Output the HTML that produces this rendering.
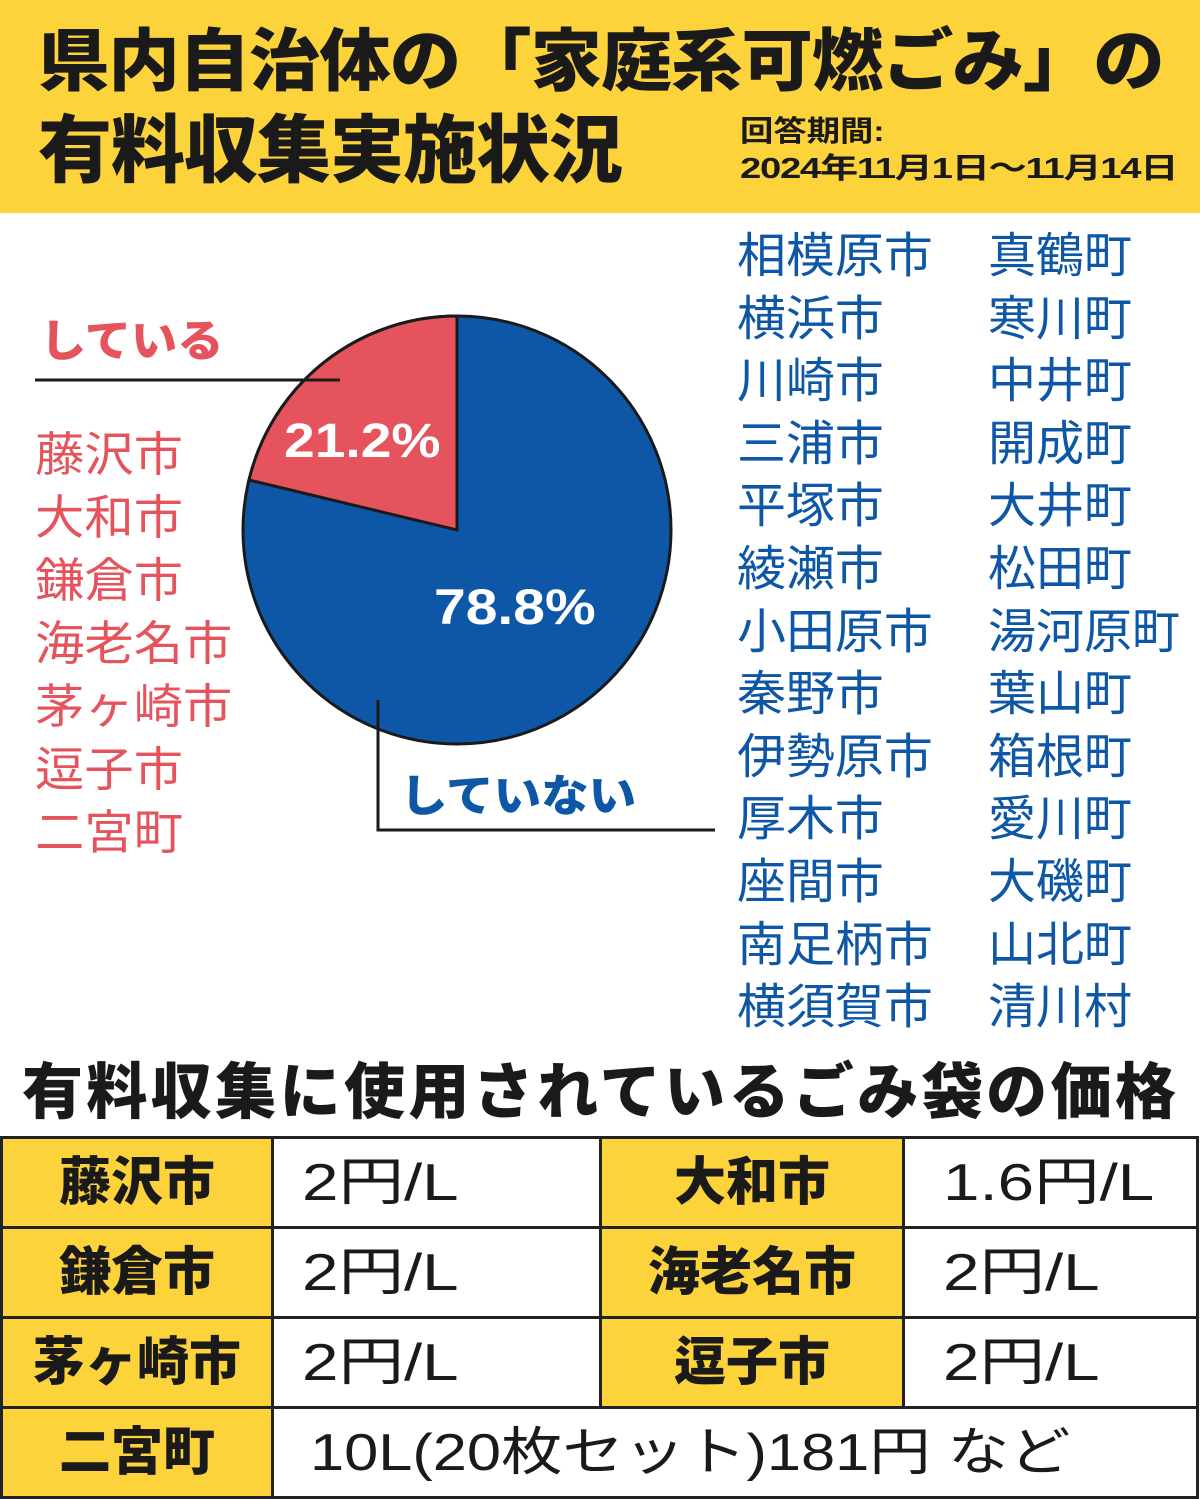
<!DOCTYPE html>
<html><head><meta charset="utf-8"><style>
*{margin:0;padding:0;box-sizing:border-box}
body{width:1200px;height:1498px;background:#fff;position:relative;overflow:hidden;font-family:"Liberation Sans","Noto Sans CJK JP",sans-serif}
.a{position:absolute;white-space:nowrap;line-height:1;transform-origin:0 0}
.hdr{position:absolute;left:0;top:0;width:1200px;height:213px;background:#fcd33a}
.t{font-weight:900;font-size:68px;color:#1a1a1a;letter-spacing:-1px}
.r{color:#e5545c;font-size:47px}
.b{color:#0d57a6;font-size:48px}
table{position:absolute;left:0;top:1136px;width:1199px;border-collapse:collapse}
td{border:3px solid #222;height:90px;font-size:52px;color:#1a1a1a;line-height:1}
td.y{background:#fcd33a;font-weight:900;text-align:center}
td.w{padding-left:28px}
td.w span{display:inline-block;transform:scaleX(1.26);transform-origin:0 50%}
</style></head><body>
<div class="hdr"></div>
<div class="a t" style="left:38px;top:28px;transform:scaleX(1.05)">県内自治体の「家庭系可燃ごみ」の</div>
<div class="a t" style="left:38px;top:114px;font-size:74px">有料収集実施状況</div>
<div class="a" style="left:740px;top:118px;font-size:29px;font-weight:700;color:#1a1a1a;transform:scaleX(1.15)">回答期間:</div>
<div class="a" style="left:740px;top:155px;font-size:29px;font-weight:700;color:#1a1a1a;letter-spacing:-1px;transform:scaleX(1.32)">2024年11月1日〜11月14日</div>

<svg class="a" style="left:0;top:0" width="1200" height="1060">
<circle cx="457" cy="530" r="214" fill="#0d57a6" stroke="#1a1a1a" stroke-width="3"/>
<path d="M457,530 L457,316 A214,214 0 0,0 249,480 Z" fill="#e5545c" stroke="#1a1a1a" stroke-width="3"/>
<line x1="35" y1="380" x2="340" y2="380" stroke="#1a1a1a" stroke-width="3"/>
<polyline points="378,700 378,830 715,830" fill="none" stroke="#1a1a1a" stroke-width="3"/>
</svg>
<div class="a" style="left:284px;top:418px;font-size:48px;font-weight:700;color:#fff;transform:scaleX(1.15)">21.2%</div>
<div class="a" style="left:434px;top:582px;font-size:50px;font-weight:700;color:#fff;transform:scaleX(1.14)">78.8%</div>
<div class="a" style="left:40px;top:320px;font-size:44px;font-weight:900;color:#e5545c;transform:scaleX(1.05)">している</div>
<div class="a" style="left:400px;top:775px;font-size:44px;font-weight:900;color:#0d57a6;transform:scaleX(1.08)">していない</div>

<div class="a r" style="left:35px;top:423px;line-height:63px;transform:scaleX(1.05)">藤沢市<br>大和市<br>鎌倉市<br>海老名市<br>茅ヶ崎市<br>逗子市<br>二宮町</div>
<div class="a b" style="left:737px;top:226px;line-height:62.6px;transform:scaleX(1.02)">相模原市<br>横浜市<br>川崎市<br>三浦市<br>平塚市<br>綾瀬市<br>小田原市<br>秦野市<br>伊勢原市<br>厚木市<br>座間市<br>南足柄市<br>横須賀市</div>
<div class="a b" style="left:988px;top:226px;line-height:62.6px">真鶴町<br>寒川町<br>中井町<br>開成町<br>大井町<br>松田町<br>湯河原町<br>葉山町<br>箱根町<br>愛川町<br>大磯町<br>山北町<br>清川村</div>

<div class="a" style="left:22px;top:1062px;font-size:61px;font-weight:900;color:#1a1a1a;letter-spacing:3.4px">有料収集に使用されているごみ袋の価格</div>
<table>
<tr><td class="y" style="width:271px">藤沢市</td><td class="w" style="width:328px"><span>2円/L</span></td><td class="y" style="width:303px">大和市</td><td class="w" style="padding-left:38px"><span>1.6円/L</span></td></tr>
<tr><td class="y">鎌倉市</td><td class="w"><span>2円/L</span></td><td class="y">海老名市</td><td class="w" style="padding-left:38px"><span>2円/L</span></td></tr>
<tr><td class="y">茅ヶ崎市</td><td class="w"><span>2円/L</span></td><td class="y">逗子市</td><td class="w" style="padding-left:38px"><span>2円/L</span></td></tr>
<tr><td class="y">二宮町</td><td class="w" colspan="3" style="padding-left:36px"><span style="transform:scaleX(1.18)">10L(20枚セット)181円 など</span></td></tr>
</table>
</body></html>
